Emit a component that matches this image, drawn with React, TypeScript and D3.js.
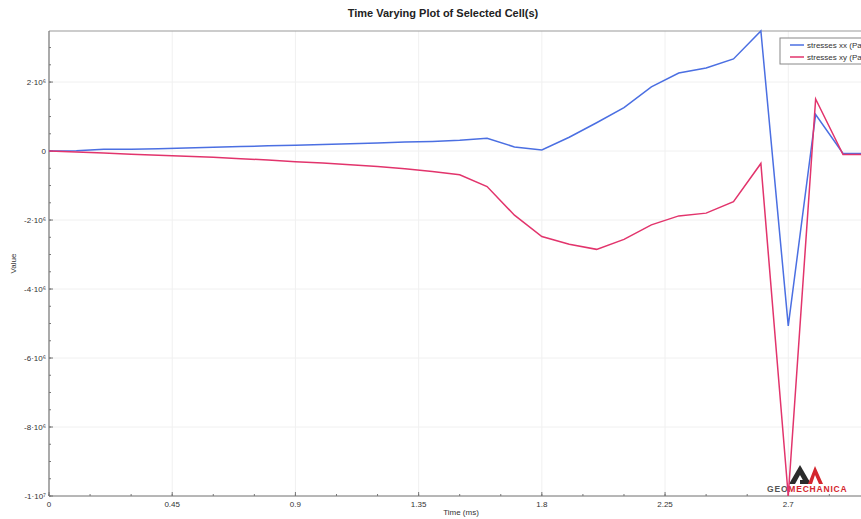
import React from "react";
import * as d3 from "d3";

// time in ms
const times = [0, 0.1, 0.2, 0.3, 0.4, 0.5, 0.6, 0.7, 0.8, 0.9, 1.0, 1.1, 1.2, 1.3, 1.4, 1.5,
  1.6, 1.7, 1.8, 1.9, 2.0, 2.1, 2.2, 2.3, 2.4, 2.5, 2.6, 2.7, 2.8, 2.9, 3.0];

// stresses xx (Pa)
const stressXX = [0, 0.01e6, 0.05e6, 0.05e6, 0.07e6, 0.09e6, 0.11e6, 0.13e6, 0.15e6, 0.17e6,
  0.19e6, 0.21e6, 0.23e6, 0.26e6, 0.28e6, 0.31e6, 0.37e6, 0.12e6, 0.03e6, 0.4e6, 0.82e6,
  1.26e6, 1.86e6, 2.26e6, 2.41e6, 2.67e6, 3.48e6, -5.07e6, 1.06e6, -0.07e6, -0.07e6];

// stresses xy (Pa)
const stressXY = [0, -0.03e6, -0.06e6, -0.09e6, -0.12e6, -0.15e6, -0.18e6, -0.22e6, -0.26e6,
  -0.31e6, -0.35e6, -0.4e6, -0.45e6, -0.51e6, -0.59e6, -0.69e6, -1.03e6, -1.86e6, -2.48e6,
  -2.7e6, -2.85e6, -2.56e6, -2.14e6, -1.88e6, -1.8e6, -1.47e6, -0.36e6, -1.0e7, 1.51e6,
  -0.1e6, -0.1e6];

const xTicks = [0, 0.45, 0.9, 1.35, 1.8, 2.25, 2.7];
const yTicks = [2e6, 0, -2e6, -4e6, -6e6, -8e6, -1e7];
const yTickLabels = ["2·10⁶", "0", "-2·10⁶", "-4·10⁶", "-6·10⁶", "-8·10⁶", "-1·10⁷"];

const seriesNames = ["stresses xx (Pa)", "stresses xy (Pa)"];
const seriesColors = ["#4b6fe2", "#e2346c"];

const W = 861;
const H = 519;
const left = 49;
const top = 31;
const bottom = 496;

export default function App() {
  const x = d3.scaleLinear().domain([0, 3]).range([left, left + 3 * 273.8]);
  const y = d3.scaleLinear().domain([-1e7, 3.48e6]).range([bottom, top]);

  const line = d3.line<number>()
    .x((_, i) => x(times[i]))
    .y((d) => y(d));

  const xMinor = d3.range(0, 3.01, 0.15);
  const yMinor = d3.range(-1e7, 3.5e6, 5e5);
  const font = "Arial, 'Liberation Sans', sans-serif";

  return (
    <svg width={W} height={H} style={{ position: "absolute", left: 0, top: 0, background: "#fff" }}
      fontFamily={font}>
      <defs>
        <clipPath id="plot">
          <rect x={left} y={top - 2} width={W} height={bottom - top + 3} />
        </clipPath>
      </defs>
      <text x={443} y={17} textAnchor="middle" fontSize={11} fontWeight="bold" fill="#222">
        Time Varying Plot of Selected Cell(s)
      </text>

      {/* grid */}
      {yTicks.map((t) => (
        <line key={"gy" + t} x1={left} x2={W} y1={y(t)} y2={y(t)} stroke="#f0f0f0" />
      ))}
      {xTicks.map((t) => (
        <line key={"gx" + t} x1={x(t)} x2={x(t)} y1={top} y2={bottom} stroke="#f0f0f0" />
      ))}

      {/* frame */}
      <line x1={left} x2={W} y1={top} y2={top} stroke="#999" strokeWidth={1.2} />
      <line x1={left} x2={left} y1={top} y2={bottom} stroke="#777" strokeWidth={1.2} />
      <line x1={left} x2={W} y1={bottom} y2={bottom} stroke="#777" strokeWidth={1.2} />

      {/* minor ticks */}
      {yMinor.map((t) => (
        <line key={"my" + t} x1={left} x2={left + 2} y1={y(t)} y2={y(t)} stroke="#777" />
      ))}
      {xMinor.map((t) => (
        <line key={"mx" + t} x1={x(t)} x2={x(t)} y1={bottom} y2={bottom - 2} stroke="#777" />
      ))}
      {yTicks.map((t) => (
        <line key={"ty" + t} x1={left} x2={left + 4} y1={y(t)} y2={y(t)} stroke="#777" />
      ))}
      {xTicks.map((t) => (
        <line key={"tx" + t} x1={x(t)} x2={x(t)} y1={bottom} y2={bottom - 4} stroke="#777" />
      ))}

      {/* tick labels */}
      {yTicks.map((t, i) => (
        <text key={"ly" + t} x={left - 3} y={y(t) + 3} textAnchor="end" fontSize={8} fill="#333">
          {yTickLabels[i]}
        </text>
      ))}
      {xTicks.map((t) => (
        <text key={"lx" + t} x={x(t)} y={bottom + 11} textAnchor="middle" fontSize={8} fill="#333">
          {String(t)}
        </text>
      ))}

      <text x={461} y={515} textAnchor="middle" fontSize={8} fill="#333">Time (ms)</text>
      <text transform={`translate(16,${(top + bottom) / 2}) rotate(-90)`} textAnchor="middle"
        fontSize={8} fill="#333">Value</text>

      {/* logo */}
      <g>
        <path d="M789,484 L800,465 L811,484 Z" fill="#2b2b2b" />
        <path d="M795,484 L800,475 L805,484 Z" fill="#fff" />
        <path d="M800,480 L809,480 L809,484 L800,484 Z" fill="#2b2b2b" />
        <path d="M808,484 L815,466 L823,484 L819,484 L815,475 L812,484 Z" fill="#d4262e" />
        <text x={767} y={492} fontSize={8.5} fontWeight="bold" letterSpacing={0.8}>
          <tspan fill="#555">GEO</tspan>
          <tspan fill="#d4262e">MECHANICA</tspan>
        </text>
      </g>

      {/* series */}
      <g clipPath="url(#plot)">
        <path d={line(stressXX) ?? ""} fill="none" stroke={seriesColors[0]} strokeWidth={1.5} />
        <path d={line(stressXY) ?? ""} fill="none" stroke={seriesColors[1]} strokeWidth={1.5} />
      </g>

      {/* legend */}
      <rect x={780} y={38} width={100} height={26} fill="#fff" stroke="#888" />
      {seriesNames.map((n, i) => (
        <g key={n}>
          <line x1={790} x2={804} y1={45 + i * 12} y2={45 + i * 12} stroke={seriesColors[i]}
            strokeWidth={1.5} />
          <text x={807} y={48 + i * 12} fontSize={8} fill="#333">{n}</text>
        </g>
      ))}
    </svg>
  );
}
